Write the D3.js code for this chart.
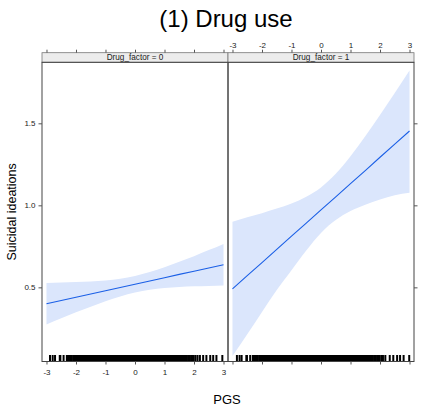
<!DOCTYPE html>
<html>
<head>
<meta charset="utf-8">
<script src="https://cdn.jsdelivr.net/npm/d3@7"></script>
<style>
  body { margin: 0; background: #fff; }
  text { font-family: "Liberation Sans", Arial, Helvetica, sans-serif; }
</style>
</head>
<body>
<div id="chart"></div>
<script>
// effect of PGS on suicidal ideations, by Drug_factor
var panels = ["Drug_factor = 0", "Drug_factor = 1"];
var pgs = [-3, -2.5, -2, -1.5, -1, -0.5, 0, 0.5, 1, 1.5, 2, 2.5, 3];

var fit0 = [0.400, 0.420, 0.440, 0.459, 0.479, 0.499, 0.519, 0.539, 0.559, 0.579, 0.598, 0.618, 0.638];
var lower0 = [0.273, 0.311, 0.348, 0.382, 0.416, 0.445, 0.469, 0.485, 0.496, 0.502, 0.506, 0.509, 0.511];
var upper0 = [0.527, 0.529, 0.532, 0.536, 0.542, 0.553, 0.569, 0.593, 0.622, 0.656, 0.690, 0.727, 0.765];

var fit1 = [0.491, 0.571, 0.651, 0.732, 0.812, 0.892, 0.972, 1.052, 1.132, 1.212, 1.293, 1.373, 1.453];
var lower1 = [0.082, 0.214, 0.350, 0.484, 0.605, 0.725, 0.832, 0.910, 0.965, 1.003, 1.035, 1.061, 1.076];
var upper1 = [0.900, 0.928, 0.952, 0.980, 1.011, 1.052, 1.109, 1.192, 1.299, 1.421, 1.551, 1.685, 1.822];

var xTicks = [-3, -2, -1, 0, 1, 2, 3];
var yTicks = [0.5, 1.0, 1.5];

// rug of observed PGS values
var rugDense = [-2.31,-2.29,-2.26,-2.22,-2.2,-2.17,-2.14,-2.09,-2.05,-2.02,-1.98,-1.96,-1.92,-1.88,-1.86,-1.83,-1.79,-1.76,-1.73,-1.71,-1.67,-1.64,-1.61,-1.58,-1.55,-1.53,-1.5,-1.47,-1.44,-1.41,-1.39,-1.36,-1.33,-1.3,-1.28,-1.25,-1.22,-1.19,-1.16,-1.14,-1.11,-1.08,-1.05,-1.03,-1.0,-0.97,-0.95,-0.92,-0.89,-0.86,-0.84,-0.81,-0.78,-0.75,-0.73,-0.7,-0.67,-0.64,-0.62,-0.59,-0.56,-0.53,-0.51,-0.48,-0.45,-0.42,-0.4,-0.37,-0.34,-0.31,-0.29,-0.26,-0.23,-0.2,-0.18,-0.15,-0.12,-0.09,-0.07,-0.04,-0.01,0.02,0.04,0.07,0.1,0.13,0.15,0.18,0.21,0.24,0.26,0.29,0.32,0.35,0.37,0.4,0.43,0.46,0.48,0.51,0.54,0.57,0.59,0.62,0.65,0.68,0.7,0.73,0.76,0.79,0.81,0.84,0.87,0.9,0.92,0.95,0.98,1.01,1.03,1.06,1.09,1.12,1.15,1.18,1.21,1.24,1.27,1.3,1.33,1.37,1.4,1.43,1.47,1.5,1.54,1.57,1.61,1.65,1.68,1.72,1.76,1.81,1.85,1.9,1.94,1.99,2.05];
var rugTail0 = [-2.88,-2.79,-2.71,-2.55,-2.53,-2.42,2.12,2.2,2.31,2.42,2.55,2.65,2.76,2.96];
var rugTail1 = [-2.85,-2.76,-2.69,-2.53,-2.51,-2.4,2.1,2.18,2.33,2.45,2.58,2.68,2.8,2.99];

var width = 425, height = 417;
var panelW = 186, panelTop = 62.3, panelBottom = 361.5, stripTop = 52.7;
var panelX = [42, 228];
var fmt = function (v) { return String(v); };

var svg = d3.select("#chart")
    .append("svg")
    .attr("width", width)
    .attr("height", height);

var y = d3.scaleLinear()
    .domain([0.048, 1.872])
    .range([panelBottom, panelTop]);

var data = [
    { fit: fit0, lower: lower0, upper: upper0, rug: rugDense.concat(rugTail0) },
    { fit: fit1, lower: lower1, upper: upper1, rug: rugDense.concat(rugTail1) }
];

data.forEach(function (d, i) {
    var x = d3.scaleLinear()
        .domain([-3.152, 3.152])
        .range([panelX[i], panelX[i] + panelW]);

    var pts = pgs.map(function (v, j) {
        return { x: v, fit: d.fit[j], lo: d.lower[j], hi: d.upper[j] };
    });

    var g = svg.append("g");

    g.append("path")
        .datum(pts)
        .attr("d", d3.area()
            .curve(d3.curveMonotoneX)
            .x(function (p) { return x(p.x); })
            .y0(function (p) { return y(p.lo); })
            .y1(function (p) { return y(p.hi); }))
        .attr("fill", "#dbe6fc");

    g.append("path")
        .datum(pts)
        .attr("d", d3.line()
            .x(function (p) { return x(p.x); })
            .y(function (p) { return y(p.fit); }))
        .attr("fill", "none")
        .attr("stroke", "#1a5fe6")
        .attr("stroke-width", 1.1);

    g.selectAll("line.rug")
        .data(d.rug)
        .enter()
        .append("line")
        .attr("x1", function (v) { return x(v); })
        .attr("x2", function (v) { return x(v); })
        .attr("y1", panelBottom - 6.5)
        .attr("y2", panelBottom)
        .attr("stroke", "#000")
        .attr("stroke-width", 2);

    // strip
    g.append("rect")
        .attr("x", panelX[i])
        .attr("y", stripTop)
        .attr("width", panelW)
        .attr("height", panelTop - stripTop)
        .attr("fill", "#ececec")
        .attr("stroke", "#777")
        .attr("stroke-width", 0.8);

    g.append("text")
        .attr("x", panelX[i] + panelW / 2)
        .attr("y", panelTop - 2.4)
        .attr("text-anchor", "middle")
        .attr("font-size", "8.2px")
        .attr("fill", "#222")
        .text(panels[i]);

    // panel border
    g.append("rect")
        .attr("x", panelX[i])
        .attr("y", panelTop)
        .attr("width", panelW)
        .attr("height", panelBottom - panelTop)
        .attr("fill", "none")
        .attr("stroke", "#444")
        .attr("stroke-width", 1);

    // ticks top (above strip) and bottom, labels alternate
    var top = d3.axisTop(x).tickValues(xTicks).tickSize(3).tickFormat(i == 1 ? fmt : "");
    var bot = d3.axisBottom(x).tickValues(xTicks).tickSize(3).tickFormat(i == 0 ? fmt : "");

    var ta = g.append("g").attr("transform", "translate(0," + stripTop + ")").call(top);
    var ba = g.append("g").attr("transform", "translate(0," + panelBottom + ")").call(bot);
    [ta, ba].forEach(function (a) {
        a.select(".domain").remove();
        a.selectAll("line").attr("stroke", "#555");
        a.selectAll("text")
            .attr("font-size", "8px")
            .attr("fill", "#222")
            .style("font-family", "'Liberation Sans', Arial, sans-serif");
    });
    ta.selectAll("text").attr("dy", "0.1em");
    ba.selectAll("text").attr("dy", "0.9em");
});

// y axes: labels left, ticks right
var ya = svg.append("g")
    .attr("transform", "translate(" + panelX[0] + ",0)")
    .call(d3.axisLeft(y).tickValues(yTicks).tickSize(3.5).tickFormat(d3.format(".1f")));
var yr = svg.append("g")
    .attr("transform", "translate(" + (panelX[1] + panelW) + ",0)")
    .call(d3.axisRight(y).tickValues(yTicks).tickSize(3.5).tickFormat(""));
[ya, yr].forEach(function (a) {
    a.select(".domain").remove();
    a.selectAll("line").attr("stroke", "#555");
    a.selectAll("text")
        .attr("font-size", "8px")
        .attr("fill", "#222")
        .style("font-family", "'Liberation Sans', Arial, sans-serif");
});

svg.append("text")
    .attr("x", 226)
    .attr("y", 27)
    .attr("text-anchor", "middle")
    .attr("font-size", "24px")
    .attr("fill", "#000")
    .text("(1) Drug use");

svg.append("text")
    .attr("x", 227)
    .attr("y", 404)
    .attr("text-anchor", "middle")
    .attr("font-size", "13px")
    .attr("fill", "#000")
    .text("PGS");

svg.append("text")
    .attr("transform", "translate(16," + ((panelTop + panelBottom) / 2) + ") rotate(-90)")
    .attr("text-anchor", "middle")
    .attr("font-size", "12.5px")
    .attr("fill", "#000")
    .text("Suicidal ideations");
</script>
</body>
</html>
